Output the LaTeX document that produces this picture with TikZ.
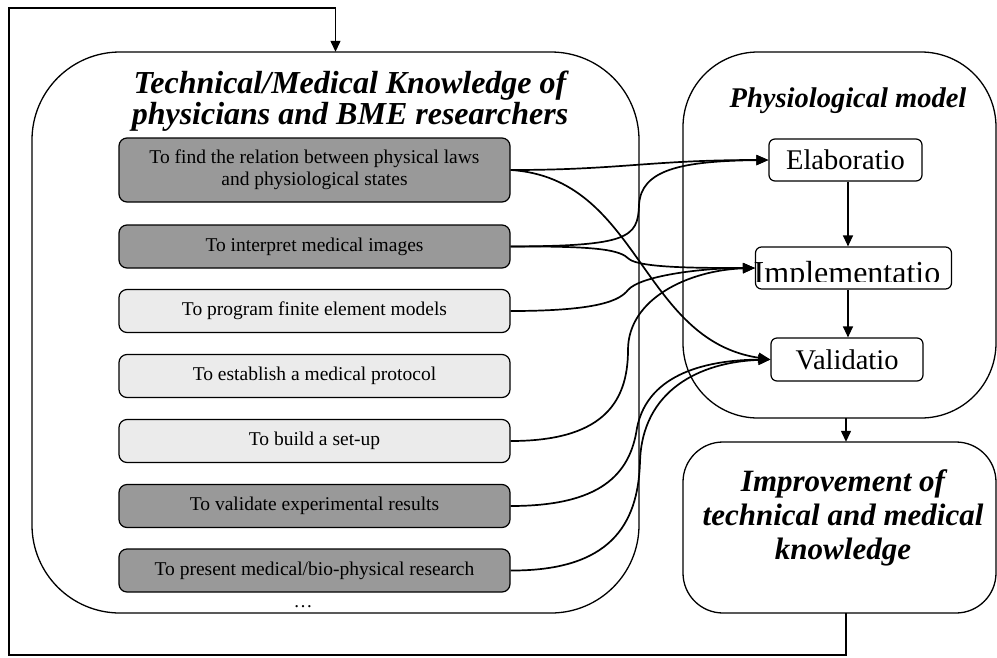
\documentclass[tikz,border=0pt]{standalone}
\usepackage{fontspec}
\setmainfont{Liberation Serif}
\usetikzlibrary{arrows.meta}
\definecolor{darkbox}{HTML}{999999}
\definecolor{lightbox}{HTML}{EBEBEB}
\tikzset{
  taskbox/.style={draw, line width=1.2pt, rounded corners=8pt, minimum width=391pt, align=center, font=\fontsize{19.5}{22}\selectfont, inner sep=2pt},
  darktask/.style={taskbox, fill=darkbox, minimum height=43pt},
  lighttask/.style={taskbox, fill=lightbox, minimum height=43pt},
  stagebox/.style={draw, line width=1.2pt, rounded corners=6pt, fill=white, minimum height=42pt, font=\fontsize{28.5}{30}\selectfont, inner sep=0pt},
  frame/.style={draw, line width=1.3pt},
  conn/.style={line width=1.7pt, -{Triangle[length=12pt,width=10pt]}},
  arr/.style={line width=1.3pt, -{Triangle[length=11pt,width=10pt]}},
  titletext/.style={font=\fontsize{32}{31}\selectfont\bfseries\itshape, align=center}
}
\begin{document}
\begin{tikzpicture}[x=1pt,y=-1pt]
\useasboundingbox (0,0) rectangle (997,657);
% big containers
\draw[frame, rounded corners=88pt] (32,52) rectangle (639,613);
\node[minimum width=607pt, minimum height=561pt, inner sep=0pt] (big) at (335.5,332.5) {};
\draw[frame, rounded corners=75pt] (683,52) rectangle (996,418);
\node[minimum width=313pt, minimum height=366pt, inner sep=0pt] (physio) at (839.5,235) {};
\draw[frame, rounded corners=40pt] (683,442) rectangle (996,613);
\node[minimum width=313pt, minimum height=171pt, inner sep=0pt] (improve) at (839.5,527.5) {};
% titles
\node[titletext] (bigtitle) at (350,101) {Technical/Medical Knowledge of\\physicians and BME researchers};
\node[titletext, font=\fontsize{28.5}{30}\selectfont\bfseries\itshape] (phtitle) at (848,101) {Physiological model};
\node[titletext, font=\fontsize{31}{34}\selectfont\bfseries\itshape] (imptitle) at (843,518) {Improvement of\\technical and medical\\knowledge};
% task boxes
\node[darktask, minimum height=64pt] (b1) at (314.5,170) {To find the relation between physical laws\\and physiological states};
\node[darktask] (b2) at (314.5,246.5) {To interpret medical images};
\node[lighttask] (b3) at (314.5,311) {To program finite element models};
\node[lighttask] (b4) at (314.5,376) {To establish a medical protocol};
\node[lighttask] (b5) at (314.5,441) {To build a set-up};
\node[darktask] (b6) at (314.5,506) {To validate experimental results};
\node[darktask] (b7) at (314.5,570.5) {To present medical/bio-physical research};
\node[font=\fontsize{19}{20}\selectfont] (dots) at (303,607) {\dots};
% stages
\node[stagebox, minimum width=153pt] (elab) at (845.5,160) {Elaboratio};
\node[stagebox, minimum width=196pt] (impl) at (853.5,268) {};
\begin{scope}
\clip ([yshift=8pt]impl.south west) rectangle (impl.north east);
\node[font=\fontsize{32}{34}\selectfont, anchor=base] (impltext) at (847,283) {Implementatio};
\end{scope}
\node[stagebox, minimum width=152pt, minimum height=43pt] (valid) at (847,359.5) {Validatio};
% stage arrows
\draw[arr] ([xshift=2.5pt]elab.south) -- ([xshift=2.5pt]elab.south |- impl.north);
\draw[arr] ([xshift=2.5pt]elab.south |- impl.south) -- ([xshift=2.5pt]elab.south |- valid.north);
\draw[arr] ([xshift=6.5pt]physio.south) -- ([xshift=6.5pt]improve.north);
% feedback loop
\coordinate (fbl) at (9,655);
\coordinate (fbt) at (9,8);
\draw[arr] ([xshift=6.5pt]improve.south) |- (fbl) -- (fbt) -| (big.north);
% connectors
\draw[conn] (b1.east) .. controls (620,170) and (650,160) .. (elab.west);
\draw[conn] (b1.east) .. controls (640,178) and (640,340) .. (valid.west);
\draw[conn] (b2.east) .. controls (628,246) and (638,238) .. (639,205) .. controls (641,170) and (680,161) .. (elab.west);
\draw[conn] (b2.east) .. controls (600,246) and (620,250) .. (629,259) .. controls (640,268) and (700,268) .. (impl.west);
\draw[conn] (b3.east) .. controls (600,311) and (620,300) .. (628,290) .. controls (640,276) and (700,268) .. (impl.west);
\draw[conn] (b5.east) .. controls (600,441) and (628,405) .. (628,350) .. controls (628,298) and (690,270) .. (impl.west);
\draw[conn] (b6.east) .. controls (600,506) and (630,475) .. (637,428) .. controls (648,372) and (710,360) .. (valid.west);
\draw[conn] (b7.east) .. controls (610,571) and (638,525) .. (640,462) .. controls (642,390) and (700,362) .. (valid.west);
\end{tikzpicture}
\end{document}
